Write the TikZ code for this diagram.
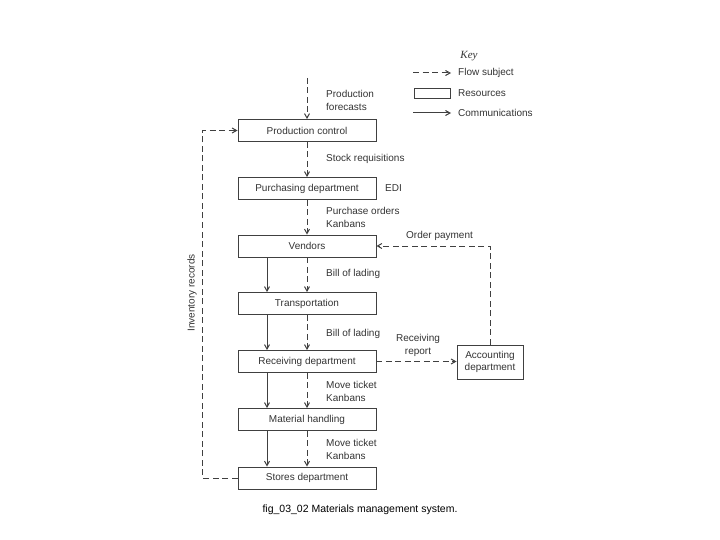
\documentclass[tikz,border=0pt]{standalone}
\usepackage{fontspec}
\setmainfont{Liberation Sans}
\newfontfamily\keyfont{Liberation Serif}
\usetikzlibrary{arrows.meta}

\begin{document}
\begin{tikzpicture}[x=1pt, y=-1pt, >={Straight Barb[length=4.5pt,width=5pt]},
	every node/.style={text=black!80},
	res/.style={draw=black!75, line width=0.9pt, minimum width=138pt, minimum height=22pt, inner sep=0pt, font=\fontsize{10}{13}\selectfont},
	lbl/.style={anchor=west, align=left, inner sep=0pt, font=\fontsize{10}{13}\selectfont},
	flow/.style={->, draw=black!75, line width=1pt, dash pattern=on 6pt off 3.5pt},
	comm/.style={->, draw=black!75, line width=1pt}]
	\useasboundingbox (0,0) rectangle (720,540);
	
	% resources
	\node[res] (pc) at (307,130.5) {Production control};
	\node[res] (pd) at (307,188.5) {Purchasing department};
	\node[res] (ven) at (307,246) {Vendors};
	\node[res] (tr) at (307,303.5) {Transportation};
	\node[res] (rd) at (307,361.5) {Receiving department};
	\node[res] (mh) at (307,419.5) {Material handling};
	\node[res] (sd) at (307,478) {Stores department};
	\node[res, minimum width=66pt, minimum height=34pt, align=center, font=\fontsize{10}{12}\selectfont] (acc) at (490,362) {Accounting\\department};
	
	% flow subject
	\coordinate (fc) at (307,78);
	\draw[flow] (fc) -- (pc);
	\draw[flow] (pc) -- (pd);
	\draw[flow] (pd) -- (ven);
	\draw[flow] (ven) -- (tr);
	\draw[flow] (tr) -- (rd);
	\draw[flow] (rd) -- (mh);
	\draw[flow] (mh) -- (sd);
	\draw[flow] (rd.east) -- (rd.east -| acc.west);
	\draw[flow] (acc.north) |- (ven.east);
	\draw[flow] (sd.west) -- ++(-35,0) |- (pc.west);
	
	% communications
	\draw[comm] ([xshift=-40pt]ven.south) -- ([xshift=-40pt]tr.north);
	\draw[comm] ([xshift=-40pt]tr.south) -- ([xshift=-40pt]rd.north);
	\draw[comm] ([xshift=-40pt]rd.south) -- ([xshift=-40pt]mh.north);
	\draw[comm] ([xshift=-40pt]mh.south) -- ([xshift=-40pt]sd.north);
	
	% labels
	\node[lbl] (l1) at (326,100.5) {Production\\forecasts};
	\node[lbl] (l2) at (326,159) {Stock requisitions};
	\node[lbl] (l3) at (385,188) {EDI};
	\node[lbl] (l4) at (326,217.5) {Purchase orders\\Kanbans};
	\node[lbl] (l5) at (406,236) {Order payment};
	\node[lbl] (l6) at (326,274) {Bill of lading};
	\node[lbl] (l7) at (326,334) {Bill of lading};
	\node[lbl, anchor=center, align=center] (l8) at (418,345.5) {Receiving\\report};
	\node[lbl] (l9) at (326,391.5) {Move ticket\\Kanbans};
	\node[lbl] (l10) at (326,449) {Move ticket\\Kanbans};
	\node[lbl, anchor=center, rotate=90] (l11) at (192,293) {Inventory records};
	
	% key
	\node[font=\keyfont\itshape\fontsize{11}{13}\selectfont] (key) at (469,56) {Key};
	\coordinate (k1a) at (413,73); \coordinate (k1b) at (451,73);
	\draw[flow] (k1a) -- (k1b);
	\node[lbl] (k1) at (458,73) {Flow subject};
	\node[draw=black!75, line width=0.9pt, minimum width=36pt, minimum height=10pt, inner sep=0pt] (kbox) at (432,93) {};
	\node[lbl] (k2) at (458,93) {Resources};
	\coordinate (k3a) at (413,113); \coordinate (k3b) at (451,113);
	\draw[comm] (k3a) -- (k3b);
	\node[lbl] (k3) at (458,113) {Communications};
	
	\node[text=black, font=\fontsize{10.5}{12}\selectfont] (cap) at (360,510) {fig\_03\_02 Materials management system.};
\end{tikzpicture}
\end{document}
